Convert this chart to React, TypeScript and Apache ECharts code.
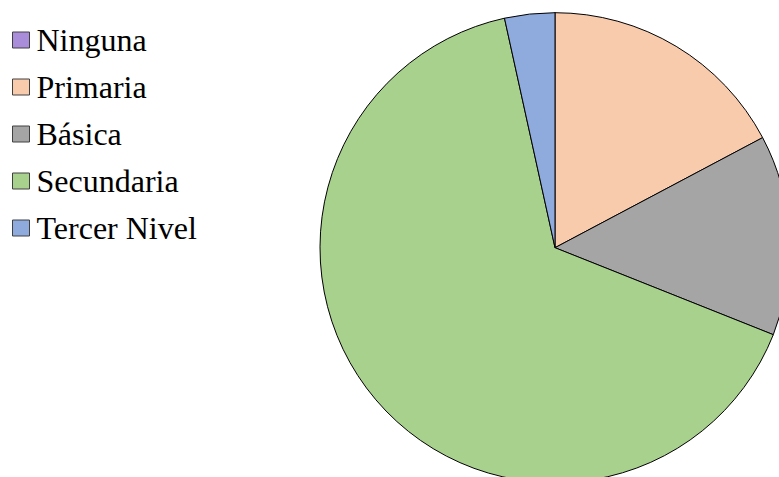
import React, { useEffect, useRef } from "react";
import * as echarts from "echarts";

const categories = ["Ninguna", "Primaria", "Básica", "Secundaria", "Tercer Nivel"];
const values = [0, 10, 8, 38, 2];
const colors = ["#A98CDA", "#F8CBAD", "#A5A5A5", "#A9D18E", "#8FAADC"];

export default function App() {
  const ref = useRef<HTMLDivElement>(null);
  useEffect(() => {
    if (!ref.current) return;
    const chart = echarts.init(ref.current, undefined, { renderer: "svg" });
    chart.setOption({
      animation: false,
      backgroundColor: "#ffffff",
      color: colors,
      legend: {
        orient: "vertical",
        left: 7,
        top: 17,
        itemWidth: 17,
        itemHeight: 16,
        itemGap: 11,
        icon: "rect",
        data: categories,
        textStyle: {
          fontFamily: "Liberation Serif",
          fontSize: 32,
          lineHeight: 36,
          color: "#000000",
          padding: [0, 0, 0, 2],
        },
        itemStyle: { borderColor: "#404040", borderWidth: 1 },
      },
      series: [
        {
          type: "pie",
          center: [555, 247.7],
          radius: 235,
          startAngle: 90,
          clockwise: true,
          label: { show: false },
          labelLine: { show: false },
          emphasis: { disabled: true },
          itemStyle: { borderColor: "#000000", borderWidth: 1 },
          data: categories.map((name, i) => ({ name, value: values[i] })),
        },
      ],
    });
    return () => chart.dispose();
  }, []);
  return (
    <div
      ref={ref}
      style={{ position: "fixed", left: 0, top: 0, width: 779, height: 477 }}
    />
  );
}
